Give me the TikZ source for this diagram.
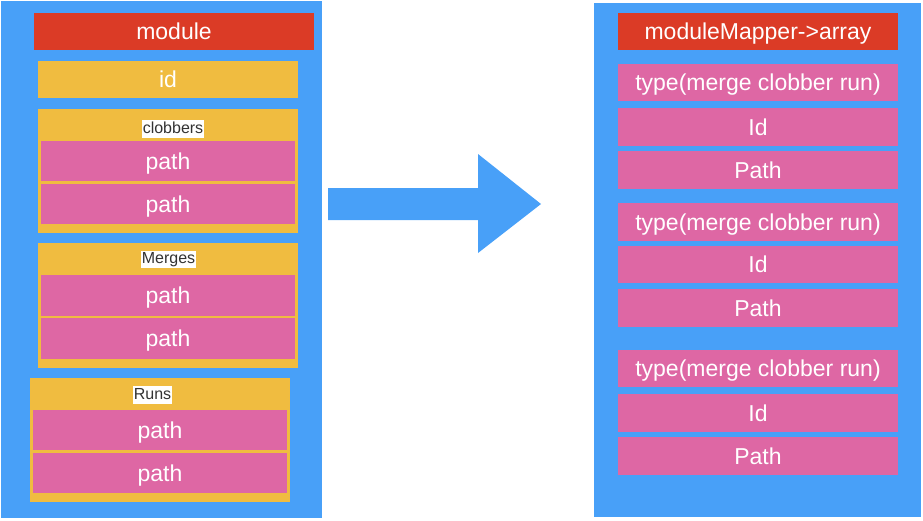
\documentclass[tikz,border=0pt]{standalone}
\usepackage{fontspec}
\setmainfont{Liberation Sans}
\definecolor{cblue}{HTML}{48A0F8}
\definecolor{cred}{HTML}{DB3B26}
\definecolor{cyellow}{HTML}{F0BC40}
\definecolor{cpink}{HTML}{DE67A4}
\definecolor{clabel}{HTML}{333333}
\begin{document}
\begin{tikzpicture}[x=1pt,y=-1pt,
  box/.style={anchor=north west,inner sep=0pt,outer sep=0pt,text=white,
    font=\fontsize{23}{25}\selectfont,text height=16.5pt,text depth=0pt},
  panel/.style={box,fill=cblue},
  redbox/.style={box,fill=cred},
  yelbox/.style={box,fill=cyellow},
  pinkbox/.style={box,fill=cpink},
  tag/.style={fill=white,inner sep=1pt,text=clabel,font=\fontsize{16}{18}\selectfont,
    text height=12pt,text depth=3.4pt}]
\useasboundingbox (0,0) rectangle (923,520);
% left panel
\node[panel,minimum width=321pt,minimum height=517pt] (lp) at (1,1) {};
\node[redbox,minimum width=280pt,minimum height=37pt] (module) at (34,13) {module};
\node[yelbox,minimum width=260pt,minimum height=37pt] (id) at (38,61) {id};
% clobbers
\node[yelbox,minimum width=260pt,minimum height=124pt] (clob) at (38,109) {};
\node[tag] (clobl) at (173,129) {clobbers};
\node[pinkbox,minimum width=254pt,minimum height=40pt] (cp1) at (41,141) {path};
\node[pinkbox,minimum width=254pt,minimum height=40pt] (cp2) at (41,184) {path};
% merges
\node[yelbox,minimum width=260pt,minimum height=125pt] (merg) at (38,243) {};
\node[tag] (mergl) at (168.5,259.5) {Merges};
\node[pinkbox,minimum width=254pt,minimum height=41pt] (mp1) at (41,275) {path};
\node[pinkbox,minimum width=254pt,minimum height=41pt] (mp2) at (41,318) {path};
% runs
\node[yelbox,minimum width=260pt,minimum height=124pt] (runs) at (30,378) {};
\node[tag] (runsl) at (152.5,395) {Runs};
\node[pinkbox,minimum width=254pt,minimum height=40pt] (rp1) at (33,410) {path};
\node[pinkbox,minimum width=254pt,minimum height=40pt] (rp2) at (33,453) {path};
% arrow
\coordinate (as) at (328,204);
\coordinate (at) at (541,204);
\fill[cblue] (328,188) -- (478,188) -- (478,154) -- (at) -- (478,253) -- (478,220) -- (328,220) -- cycle;
% right panel
\node[panel,minimum width=327pt,minimum height=514pt] (rp) at (594,3) {};
\node[redbox,minimum width=280pt,minimum height=37pt] (mm) at (618,13) {moduleMapper->array};
\node[pinkbox,minimum width=280pt,minimum height=37pt] (t1) at (618,64) {type(merge clobber run)};
\node[pinkbox,minimum width=280pt,minimum height=38pt] (i1) at (618,108) {Id};
\node[pinkbox,minimum width=280pt,minimum height=38pt] (p1) at (618,151) {Path};
\node[pinkbox,minimum width=280pt,minimum height=38pt] (t2) at (618,203) {type(merge clobber run)};
\node[pinkbox,minimum width=280pt,minimum height=37pt] (i2) at (618,246) {Id};
\node[pinkbox,minimum width=280pt,minimum height=38pt] (p2) at (618,289) {Path};
\node[pinkbox,minimum width=280pt,minimum height=37pt] (t3) at (618,350) {type(merge clobber run)};
\node[pinkbox,minimum width=280pt,minimum height=38pt] (i3) at (618,394) {Id};
\node[pinkbox,minimum width=280pt,minimum height=38pt] (p3) at (618,437) {Path};
\end{tikzpicture}
\end{document}
